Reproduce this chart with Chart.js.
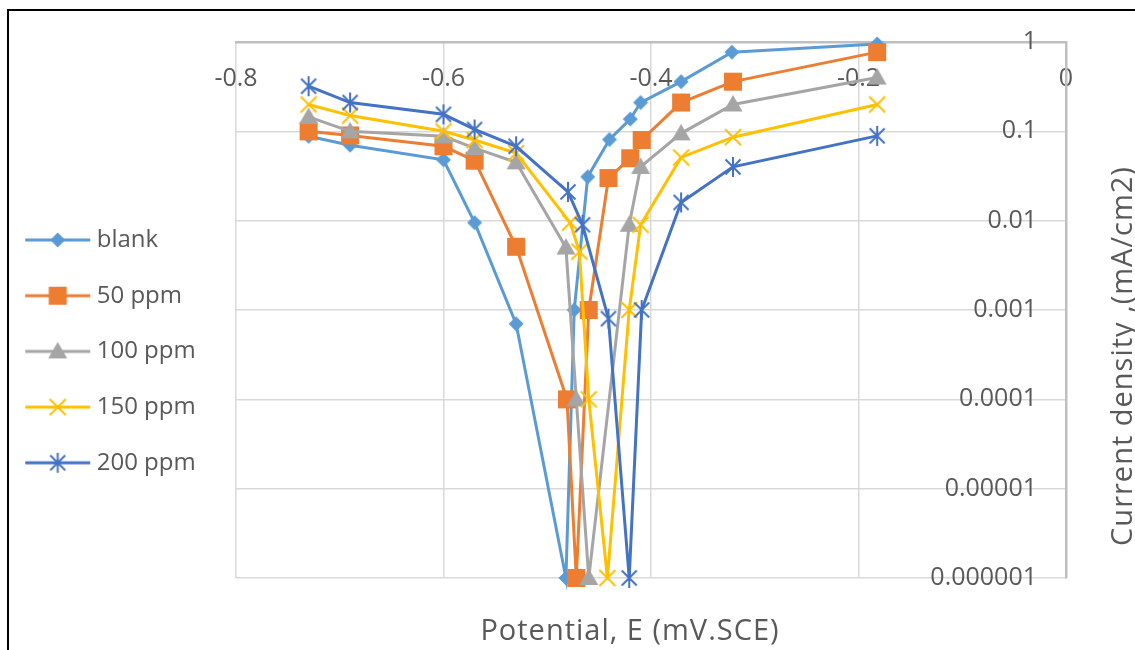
<!DOCTYPE html>
<html><head><meta charset="utf-8">
<script src="https://cdn.jsdelivr.net/npm/chart.js@4/dist/chart.umd.min.js"></script>
<style>
html,body{margin:0;padding:0;background:#fff;}
#wrap{position:relative;width:1135px;height:650px;overflow:hidden;background:#fff;}
#frame{position:absolute;left:7px;top:9px;width:1200px;height:700px;border-left:2px solid #000;border-top:2px solid #000;}
#c{position:absolute;left:0;top:0;}
</style></head><body>
<div id="wrap"><div id="frame"></div><canvas id="c" width="1135" height="650"></canvas></div>
<script>
// ---- data ----
const seriesNames = ['blank', '50 ppm', '100 ppm', '150 ppm', '200 ppm'];
const seriesColors = ['#5B9BD5', '#ED7D31', '#A5A5A5', '#FFC000', '#4472C4'];
const seriesMarkers = ['diamond', 'square', 'triangle', 'x', 'star'];

const blankE = [-0.73, -0.69, -0.60, -0.57, -0.53, -0.482, -0.474, -0.461, -0.44, -0.42, -0.41, -0.371, -0.322, -0.182];
const blankI = [0.088, 0.07, 0.048, 0.0095, 0.0007, 0.000001, 0.001, 0.031, 0.081, 0.137, 0.21, 0.36, 0.77, 0.95];

const ppm50E = [-0.73, -0.69, -0.60, -0.57, -0.53, -0.481, -0.472, -0.46, -0.441, -0.42, -0.409, -0.371, -0.321, -0.182];
const ppm50I = [0.1, 0.09, 0.068, 0.047, 0.0051, 0.0001, 0.000001, 0.001, 0.03, 0.05, 0.08, 0.21, 0.36, 0.77];

const ppm100E = [-0.73, -0.69, -0.60, -0.57, -0.53, -0.482, -0.472, -0.46, -0.421, -0.41, -0.371, -0.321, -0.182];
const ppm100I = [0.145, 0.1, 0.088, 0.065, 0.045, 0.005, 0.0001, 0.000001, 0.009, 0.04, 0.095, 0.2, 0.4];

const ppm150E = [-0.73, -0.69, -0.60, -0.57, -0.53, -0.478, -0.469, -0.46, -0.442, -0.421, -0.41, -0.371, -0.321, -0.182];
const ppm150I = [0.2, 0.15, 0.1, 0.08, 0.057, 0.0095, 0.0045, 0.0001, 0.000001, 0.001, 0.009, 0.051, 0.086, 0.2];

const ppm200E = [-0.73, -0.69, -0.60, -0.57, -0.53, -0.48, -0.466, -0.441, -0.421, -0.409, -0.371, -0.321, -0.182];
const ppm200I = [0.32, 0.21, 0.155, 0.105, 0.068, 0.021, 0.009, 0.0008, 0.000001, 0.001, 0.016, 0.04, 0.089];

const xTickValues = [-0.8, -0.6, -0.4, -0.2, 0];
const xTickLabels = ['-0.8', '-0.6', '-0.4', '-0.2', '0'];
const yTickValues = [0.000001, 0.00001, 0.0001, 0.001, 0.01, 0.1, 1];
const yTickLabels = ['0.000001', '0.00001', '0.0001', '0.001', '0.01', '0.1', '1'];
const xTitle = 'Potential, E (mV.SCE)';
const yTitle = 'Current density ,(mA/cm2)';

const seriesE = [blankE, ppm50E, ppm100E, ppm150E, ppm200E];
const seriesI = [blankI, ppm50I, ppm100I, ppm150I, ppm200I];

// ---- marker drawing ----
function drawMarker(ctx, kind, cx, cy, color) {
  ctx.save();
  ctx.fillStyle = color; ctx.strokeStyle = color;
  ctx.beginPath();
  if (kind === 'diamond') {
    const r = 7.5;
    ctx.moveTo(cx, cy - r); ctx.lineTo(cx + r, cy); ctx.lineTo(cx, cy + r); ctx.lineTo(cx - r, cy); ctx.closePath(); ctx.fill();
  } else if (kind === 'square') {
    ctx.rect(cx - 9, cy - 9, 18, 18); ctx.fill();
  } else if (kind === 'triangle') {
    ctx.moveTo(cx, cy - 9.5); ctx.lineTo(cx + 9.5, cy + 7); ctx.lineTo(cx - 9.5, cy + 7); ctx.closePath(); ctx.fill();
  } else if (kind === 'x') {
    const d = 8; ctx.lineWidth = 2;
    ctx.moveTo(cx - d, cy - d); ctx.lineTo(cx + d, cy + d);
    ctx.moveTo(cx + d, cy - d); ctx.lineTo(cx - d, cy + d); ctx.stroke();
  } else if (kind === 'star') {
    const d = 7.5; ctx.lineWidth = 2;
    ctx.moveTo(cx - d, cy - d); ctx.lineTo(cx + d, cy + d);
    ctx.moveTo(cx + d, cy - d); ctx.lineTo(cx - d, cy + d);
    ctx.moveTo(cx, cy - 10); ctx.lineTo(cx, cy + 10); ctx.stroke();
  }
  ctx.restore();
}
function makePoint(kind, color) {
  const c = document.createElement('canvas'); c.width = 26; c.height = 26;
  drawMarker(c.getContext('2d'), kind, 13, 13, color);
  return c;
}
function makeLegendSample(kind, color) {
  const c = document.createElement('canvas'); c.width = 80; c.height = 26;
  const g = c.getContext('2d');
  g.strokeStyle = color; g.lineWidth = 3;
  g.beginPath(); g.moveTo(7, 13); g.lineTo(72, 13); g.stroke();
  drawMarker(g, kind, 39.5, 13, color);
  return c;
}

const pointImgs = seriesNames.map((n, i) => makePoint(seriesMarkers[i], seriesColors[i]));
const legendImgs = seriesNames.map((n, i) => makeLegendSample(seriesMarkers[i], seriesColors[i]));

const datasets = seriesNames.map((name, i) => ({
  label: name,
  data: seriesE[i].map((e, k) => ({ x: e, y: seriesI[i][k] })),
  borderColor: seriesColors[i],
  backgroundColor: seriesColors[i],
  borderWidth: 3,
  pointStyle: pointImgs[i],
  pointRadius: 6,
  pointHoverRadius: 6,
  tension: 0,
  clip: false,
  order: seriesNames.length - i
}));

const FONT = '"Open Sans", "Noto Sans", sans-serif';
const TEXT = '#595959';

const legendWidthPlugin = {
  id: 'legendWidth',
  beforeInit(chart) {
    const lg = chart.legend;
    if (!lg) return;
    const orig = lg.fit.bind(lg);
    lg.fit = function () { orig(); this.width = 236; };
  }
};
const titlePlugin = {
  id: 'axisTitles',
  afterDraw(chart) {
    const ctx = chart.ctx;
    ctx.save();
    ctx.fillStyle = TEXT;
    ctx.font = '29px ' + FONT;
    try { ctx.letterSpacing = '1px'; } catch (e) {}
    ctx.textAlign = 'center';
    ctx.textBaseline = 'middle';
    ctx.fillText(xTitle, 630, 632);
    ctx.translate(1124, 356);
    ctx.rotate(-Math.PI / 2);
    ctx.fillText(yTitle, 0, 0);
    ctx.restore();
  }
};

function build() {
  new Chart(document.getElementById('c'), {
    type: 'line',
    data: { datasets },
    plugins: [legendWidthPlugin, titlePlugin],
    options: {
      responsive: false,
      animation: false,
      devicePixelRatio: 1,
      layout: { padding: { top: 42, bottom: 72, left: 0, right: 0 } },
      plugins: {
        tooltip: { enabled: false },
        legend: {
          position: 'left',
          align: 'center',
          title: { display: true, text: ' ', font: { size: 10 }, padding: { top: 0, bottom: 70.8 } },
          labels: {
            usePointStyle: true,
            pointStyleWidth: 53,
            padding: 31.7,
            textAlign: 'left',
            color: TEXT,
            font: { family: FONT, size: 24 },
            generateLabels: (chart) => chart.data.datasets.map((ds, i) => ({
              text: ds.label, pointStyle: legendImgs[i], fillStyle: ds.borderColor,
              strokeStyle: ds.borderColor, lineWidth: 0, hidden: false, datasetIndex: i, fontColor: TEXT
            }))
          }
        }
      },
      scales: {
        x: {
          type: 'linear',
          position: { y: 1 },
          min: -0.8, max: 0,
          afterBuildTicks: (s) => { s.ticks = xTickValues.map(v => ({ value: v })); },
          ticks: {
            padding: 22, color: TEXT, font: { family: FONT, size: 25 },
            callback: (v) => { const k = xTickValues.findIndex(t => Math.abs(t - v) < 1e-9); return k >= 0 ? xTickLabels[k] : ''; }
          },
          grid: { color: '#d9d9d9', lineWidth: 1.5, drawTicks: false },
          border: { display: true, color: '#bfbfbf', width: 2.5 }
        },
        y: {
          type: 'logarithmic',
          position: 'right',
          min: 0.000001, max: 1,
          afterBuildTicks: (s) => { s.ticks = yTickValues.map(v => ({ value: v, major: true })); },
          afterFit: (s) => { s.width = 69; },
          ticks: {
            mirror: true, padding: -29, color: TEXT, font: { family: FONT, size: 25 },
            callback: (v) => { const k = yTickValues.findIndex(t => Math.abs(Math.log10(t) - Math.log10(v)) < 1e-6); return k >= 0 ? yTickLabels[k] : ''; }
          },
          grid: { color: '#d9d9d9', lineWidth: 1.5, drawTicks: false },
          border: { display: true, color: '#bfbfbf', width: 2.5 }
        }
      }
    }
  });
}
if (document.fonts && document.fonts.load) {
  Promise.all([document.fonts.load('24px "Open Sans"'), document.fonts.load('29px "Open Sans"')]).then(build, build);
} else { build(); }
</script>
</body></html>
